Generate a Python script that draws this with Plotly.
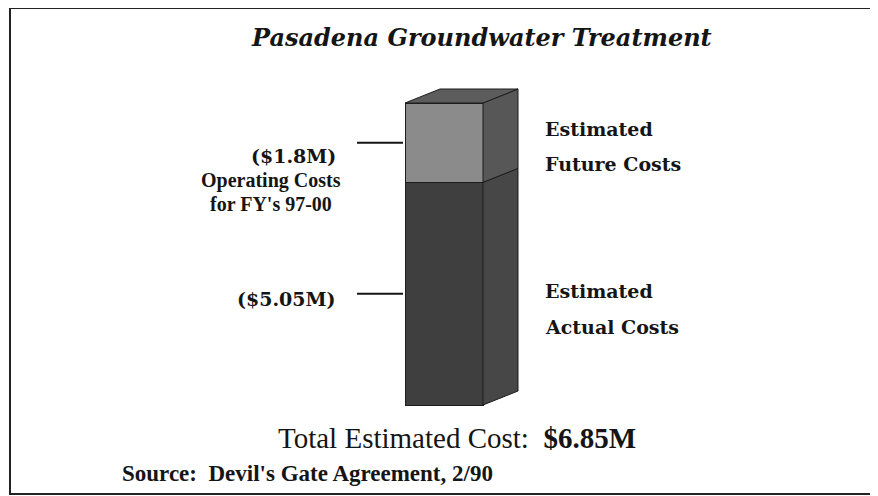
"""Pasadena groundwater treatment cost - single 3D-style stacked bar."""

import plotly.graph_objects as go

# data ($M), bottom segment first
segments = ["Estimated Actual Costs", "Estimated Future Costs"]
values = [5.05, 1.8]
value_labels = ["($5.05M)", "($1.8M)"]
right_labels = [("Estimated", "Actual Costs"), ("Estimated", "Future Costs")]
total = round(sum(values), 2)

PAGE = 8                            # body margin of the html page
W, H = 878 - PAGE, 496 - PAGE
BASE_PX, TOP_PX = 405, 103          # page rows of bar bottom / top
K = (BASE_PX - TOP_PX) / total      # px per $M
BAR_X, BAR_W = 444, 78
DX, DY = 35, 14 / K                 # depth of the 3D box

front_colors = ["#3f3f3f", "#8b8b8b"]
side_colors = ["#474747", "#575757"]
EDGE = "#1c1c1c"
INK = "#151515"

SERIF = "Liberation Serif, Times New Roman, serif"
WIDE = "DejaVu Serif, serif"


def py(p):
    """page pixel row -> paper y"""
    return 1 - (p - PAGE) / H


fig = go.Figure()

for name, v, c in zip(segments, values, front_colors):
    fig.add_trace(go.Bar(x=[BAR_X], y=[v], width=BAR_W, name=name,
                         marker=dict(color=c, line=dict(color=EDGE, width=1)),
                         hoverinfo="skip"))

# side faces and top face
right = BAR_X + BAR_W / 2
left = BAR_X - BAR_W / 2
base = 0
for v, c in zip(values, side_colors):
    top = base + v
    fig.add_trace(go.Scatter(
        x=[right, right + DX, right + DX, right, right],
        y=[base, base + DY, top + DY, top, base],
        fill="toself", fillcolor=c, mode="lines",
        line=dict(color=EDGE, width=1), hoverinfo="skip"))
    base = top
fig.add_trace(go.Scatter(
    x=[left, left + DX, right + DX, right, left],
    y=[total, total + DY, total + DY, total, total],
    fill="toself", fillcolor="#5c5c5c", mode="lines",
    line=dict(color=EDGE, width=1), hoverinfo="skip"))

shapes = [dict(type="rect", xref="x", yref="paper", x0=10, x1=876,
               y0=py(494), y1=py(8), line=dict(color="#222", width=2))]
annotations = [
    dict(text="<b><i>Pasadena Groundwater Treatment</i></b>", x=481, y=py(37),
         font=dict(family=WIDE, size=24, color=INK)),
    dict(text="Total Estimated Cost:  <b>$%.2fM</b>" % total, x=457, y=py(438),
         font=dict(family=SERIF, size=29, color=INK)),
    dict(text="<b>Source:  Devil's Gate Agreement, 2/90</b>", x=120, y=py(473),
         xanchor="left", font=dict(family=SERIF, size=23, color=INK)),
    dict(text="<b>Operating Costs</b>", x=271, y=py(180),
         font=dict(family=SERIF, size=20, color=INK)),
    dict(text="<b>for FY's 97-00</b>", x=271, y=py(204),
         font=dict(family=SERIF, size=20, color=INK)),
]

base = 0
label_shift = [-5, -13]
right_shift = [(3, -33), (14, -21)]
for i, v in enumerate(values):
    mid = base + v / 2
    base += v
    shapes.append(dict(type="line", xref="x", yref="y", x0=357, x1=left - 2,
                       y0=mid, y1=mid, line=dict(color=INK, width=2)))
    annotations.append(dict(text="<b>%s</b>" % value_labels[i], x=338, y=mid,
                            yref="y", xanchor="right", yshift=label_shift[i],
                            font=dict(family=WIDE, size=19, color=INK)))
    for line, ys in zip(right_labels[i], right_shift[i]):
        annotations.append(dict(text="<b>%s</b>" % line, x=543, y=mid, yref="y",
                                xanchor="left", yshift=ys,
                                font=dict(family=WIDE, size=19, color=INK)))

for a in annotations:
    a.setdefault("xref", "x")
    a.setdefault("yref", "paper")
    a.setdefault("xanchor", "center")
    a["yanchor"] = "middle"
    a["showarrow"] = False

fig.update_layout(
    width=W, height=H, margin=dict(l=0, r=0, t=0, b=0),
    barmode="stack", showlegend=False,
    paper_bgcolor="white", plot_bgcolor="white",
    xaxis=dict(range=[PAGE, PAGE + W], visible=False, fixedrange=True),
    yaxis=dict(range=[-(496 - BASE_PX) / K, (BASE_PX - PAGE) / K],
               visible=False, fixedrange=True),
    shapes=shapes, annotations=annotations,
)

fig.write_html("out.html")
